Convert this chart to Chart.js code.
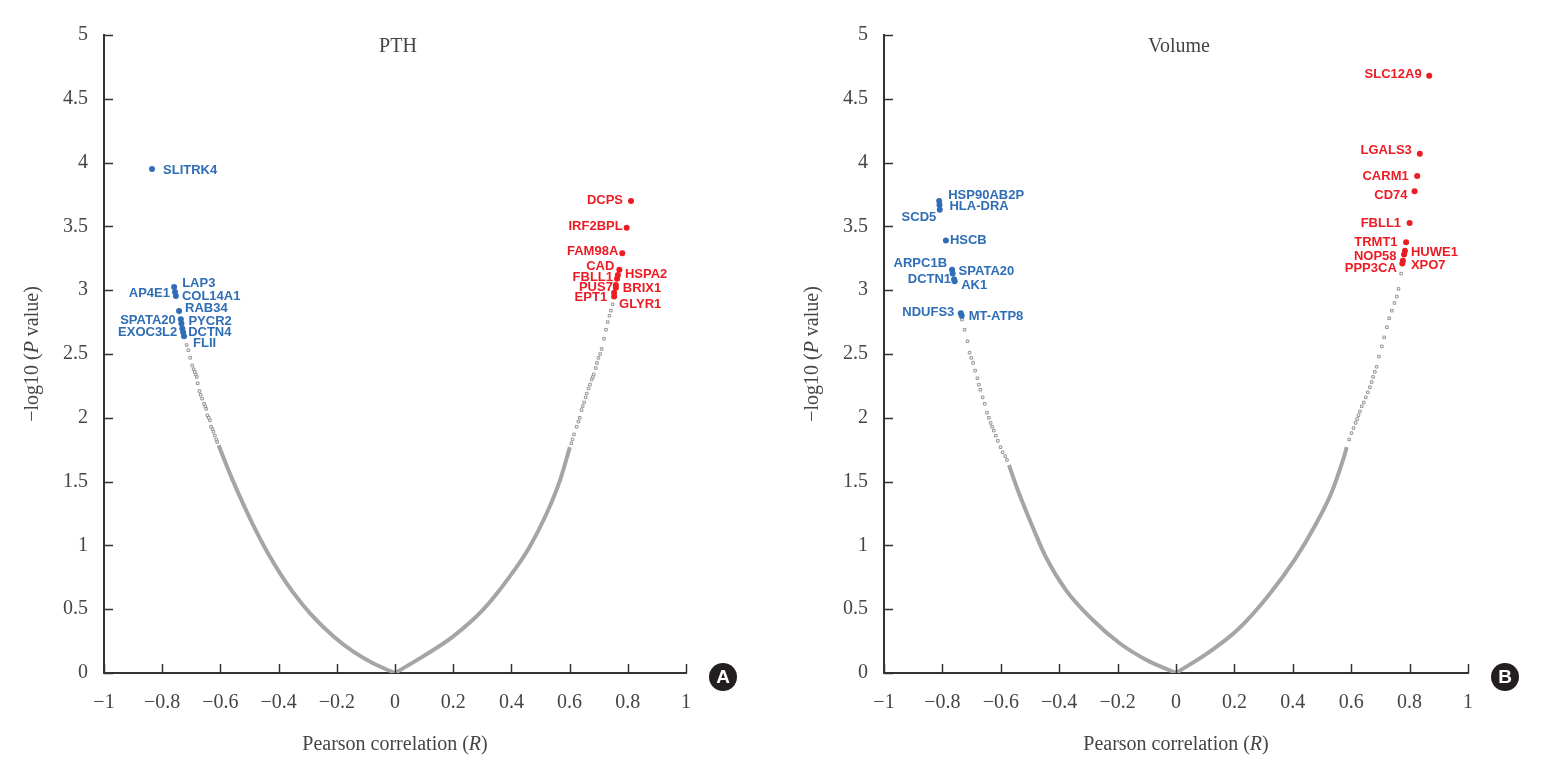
<!DOCTYPE html>
<html>
<head>
<meta charset="utf-8">
<script src="https://cdn.jsdelivr.net/npm/chart.js@4.4.1/dist/chart.umd.min.js"></script>
<style>
body { margin: 0; background: #fff; width: 1545px; height: 774px; overflow: hidden; position: relative; }
.panel { position: absolute; top: 0; height: 774px; }
#boxA { left: 0; width: 772px; }
#boxB { left: 780px; width: 765px; }
</style>
</head>
<body>
<div class="panel" id="boxA"><canvas id="chartA"></canvas></div>
<div class="panel" id="boxB"><canvas id="chartB"></canvas></div>
<script>
// axis ticks (both panels)
const xTickValues = [-1, -0.8, -0.6, -0.4, -0.2, 0, 0.2, 0.4, 0.6, 0.8, 1];
const yTickValues = [0, 0.5, 1, 1.5, 2, 2.5, 3, 3.5, 4, 4.5, 5];

// PTH - grey genes (dense part read as a curve, sparse part as single points)
const pthCurveNegR = [-0.606, -0.577, -0.543, -0.509, -0.474, -0.44, -0.394, -0.349, -0.291, -0.211, -0.143, -0.074, 0];
const pthCurveNegV = [1.785, 1.617, 1.433, 1.263, 1.098, 0.952, 0.777, 0.628, 0.466, 0.286, 0.167, 0.074, 0];
const pthCurvePosR = [0, 0.095, 0.199, 0.302, 0.394, 0.463, 0.521, 0.567, 0.601];
const pthCurvePosV = [0, 0.128, 0.285, 0.494, 0.755, 0.99, 1.25, 1.51, 1.77];
const pthSparseR = [-0.611, -0.614, -0.619, -0.624, -0.627, -0.632, -0.636, -0.640, -0.645, -0.649, -0.652, -0.656,
    -0.663, -0.668, -0.672, -0.678, -0.681, -0.685, -0.688, -0.692, -0.697, -0.704, -0.710, -0.716,
    0.606, 0.61, 0.615, 0.624, 0.63, 0.635, 0.641, 0.645, 0.65, 0.655, 0.659, 0.665, 0.67, 0.676,
    0.68, 0.683, 0.690, 0.694, 0.699, 0.705, 0.710, 0.718, 0.725, 0.731, 0.737, 0.742, 0.748];
const pthSparseV = [1.81, 1.83, 1.86, 1.89, 1.91, 1.93, 1.98, 2.0, 2.02, 2.07, 2.09, 2.11,
    2.15, 2.18, 2.21, 2.27, 2.32, 2.34, 2.36, 2.38, 2.41, 2.47, 2.53, 2.57,
    1.80, 1.83, 1.87, 1.93, 1.97, 2.0, 2.06, 2.09, 2.12, 2.16, 2.19, 2.23, 2.26, 2.30,
    2.32, 2.34, 2.39, 2.43, 2.47, 2.50, 2.54, 2.62, 2.69, 2.75, 2.80, 2.84, 2.89];

// PTH - negatively correlated (blue)
const pthDownGenes = ['SLITRK4', 'LAP3', 'AP4E1', 'COL14A1', 'RAB34', 'SPATA20', 'PYCR2', 'EXOC3L2', 'DCTN4', 'FLII'];
const pthDownR = [-0.835, -0.759, -0.756, -0.753, -0.742, -0.736, -0.734, -0.731, -0.728, -0.725];
const pthDownV = [3.95, 3.025, 2.986, 2.955, 2.837, 2.772, 2.74, 2.70, 2.67, 2.64];

// PTH - positively correlated (red)
const pthUpGenes = ['DCPS', 'IRF2BPL', 'FAM98A', 'CAD', 'HSPA2', 'FBLL1', 'PUS7', 'BRIX1', 'EPT1', 'GLYR1'];
const pthUpR = [0.811, 0.796, 0.781, 0.771, 0.766, 0.763, 0.759, 0.759, 0.753, 0.753];
const pthUpV = [3.70, 3.49, 3.29, 3.16, 3.12, 3.09, 3.04, 3.02, 2.98, 2.95];

// Volume - grey genes
const volCurveNegR = [-0.572, -0.56, -0.538, -0.492, -0.446, -0.377, -0.285, -0.193, -0.101, 0];
const volCurveNegV = [1.63, 1.55, 1.41, 1.15, 0.91, 0.65, 0.415, 0.233, 0.102, 0];
const volCurvePosR = [0, 0.107, 0.210, 0.314, 0.406, 0.475, 0.532, 0.572, 0.585];
const volCurvePosV = [0, 0.154, 0.337, 0.60, 0.886, 1.15, 1.41, 1.67, 1.77];
const volSparseR = [-0.579, -0.585, -0.594, -0.601, -0.61, -0.617, -0.624, -0.630, -0.635, -0.641, -0.647, -0.655,
    -0.662, -0.670, -0.675, -0.680, -0.688, -0.695, -0.701, -0.707, -0.714, -0.724, -0.733,
    0.593, 0.601, 0.608, 0.615, 0.620, 0.625, 0.630, 0.636, 0.643, 0.65, 0.657, 0.664, 0.670,
    0.675, 0.681, 0.687, 0.695, 0.705, 0.713, 0.722, 0.73, 0.739, 0.748, 0.756, 0.762, 0.771];
const volSparseV = [1.67, 1.70, 1.73, 1.77, 1.82, 1.86, 1.90, 1.93, 1.96, 2.0, 2.04, 2.11,
    2.16, 2.22, 2.26, 2.31, 2.37, 2.43, 2.47, 2.51, 2.60, 2.69, 2.77,
    1.83, 1.88, 1.92, 1.96, 1.99, 2.02, 2.05, 2.09, 2.12, 2.16, 2.20, 2.24, 2.28,
    2.32, 2.36, 2.40, 2.48, 2.56, 2.63, 2.71, 2.78, 2.84, 2.90, 2.95, 3.01, 3.13];

// Volume - negatively correlated (blue)
const volDownGenes = ['HSP90AB2P', 'HLA-DRA', 'SCD5', 'HSCB', 'ARPC1B', 'SPATA20', 'DCTN1', 'AK1', 'NDUFS3', 'MT-ATP8'];
const volDownR = [-0.811, -0.810, -0.809, -0.788, -0.767, -0.765, -0.760, -0.758, -0.737, -0.734];
const volDownV = [3.70, 3.667, 3.63, 3.39, 3.16, 3.13, 3.085, 3.07, 2.82, 2.80];

// Volume - positively correlated (red)
const volUpGenes = ['SLC12A9', 'LGALS3', 'CARM1', 'CD74', 'FBLL1', 'TRMT1', 'HUWE1', 'NOP58', 'XPO7', 'PPP3CA'];
const volUpR = [0.867, 0.835, 0.826, 0.817, 0.800, 0.788, 0.784, 0.781, 0.777, 0.775];
const volUpV = [4.68, 4.07, 3.895, 3.775, 3.527, 3.375, 3.31, 3.28, 3.23, 3.21];

// label placement next to each dot: [dx, dy] in px, dx < 0 puts the text on the left
const pthDownLabelPos = [[11, 1], [8, -4], [-5, 1], [6, 0], [6, -3], [-5, 1], [7, -2], [-5, 4], [5, 0], [9, 7]];
const pthUpLabelPos = [[-8, 0], [-4, -1], [-4, -1.5], [-5, -3], [7, 0], [-4, -1], [-3, 2], [7, 1], [-7, 5], [5, 8]];
const volDownLabelPos = [[9, -5.5], [10, 1.7], [-3.5, 8], [4, 0], [-5, -6.5], [6, -2.5], [-3, 0], [6.5, 4.3], [-6.5, -1], [7, 0.7]];
const volUpLabelPos = [[-7.5, -1.5], [-8, -3], [-8.5, 0], [-7, 4.5], [-8.5, 0], [-8.5, 0], [6, 1.7], [-7.5, 1.7], [8, 5], [-5.5, 5.5]];

const RED = '#ec1c24';
const BLUE = '#2f6db6';
const GREY = '#a5a5a5';
const TEXT = '#454545';
const AXIS = '#333333';
const SERIF = '"Liberation Serif", "Times New Roman", serif';
const SANS = '"Liberation Sans", Arial, sans-serif';

function pts(xs, ys) {
    return xs.map((x, i) => ({ x: x, y: ys[i] }));
}

function fmtTick(v) {
    if (v < 0) return '\u2212' + String(Math.abs(v));
    return String(v);
}

function drawRich(ctx, parts, cx, cy, rotate) {
    ctx.save();
    ctx.translate(cx, cy);
    if (rotate) ctx.rotate(-Math.PI / 2);
    let total = 0;
    parts.forEach(p => { ctx.font = p.font; total += ctx.measureText(p.text).width; });
    let x = -total / 2;
    ctx.textBaseline = 'middle';
    ctx.textAlign = 'left';
    ctx.fillStyle = TEXT;
    parts.forEach(p => {
        ctx.font = p.font;
        ctx.fillText(p.text, x, 0);
        x += ctx.measureText(p.text).width;
    });
    ctx.restore();
}

const decorPlugin = {
    id: 'decor',
    afterDraw(chart) {
        const ctx = chart.ctx;
        const area = chart.chartArea;
        const xs = chart.scales.x;
        const ys = chart.scales.y;
        const extra = chart.options.plugins.decor;

        // inward tick marks
        ctx.save();
        ctx.strokeStyle = AXIS;
        ctx.lineWidth = 1.5;
        ctx.beginPath();
        xTickValues.forEach(v => {
            const px = Math.round(xs.getPixelForValue(v)) + 0.5;
            ctx.moveTo(px, area.bottom);
            ctx.lineTo(px, area.bottom - 9);
        });
        yTickValues.forEach(v => {
            const py = Math.round(ys.getPixelForValue(v)) + 0.5;
            ctx.moveTo(area.left, py);
            ctx.lineTo(area.left + 9, py);
        });
        ctx.stroke();
        ctx.restore();

        // gene labels
        ctx.save();
        ctx.font = 'bold 13px ' + SANS;
        ctx.textBaseline = 'middle';
        chart.data.datasets.forEach((ds, di) => {
            if (!ds.genes) return;
            const meta = chart.getDatasetMeta(di);
            ctx.fillStyle = ds.backgroundColor;
            meta.data.forEach((el, i) => {
                const off = ds.labelPos[i];
                ctx.textAlign = off[0] < 0 ? 'right' : 'left';
                ctx.fillText(ds.genes[i], el.x + off[0], el.y + off[1]);
            });
        });
        ctx.restore();

        // panel title
        ctx.save();
        ctx.fillStyle = TEXT;
        ctx.font = '20px ' + SERIF;
        ctx.textAlign = 'center';
        ctx.textBaseline = 'middle';
        ctx.fillText(extra.title, (area.left + area.right) / 2 + 3, area.top + 12);
        ctx.restore();

        // axis titles
        drawRich(ctx, [
            { text: 'Pearson correlation (', font: '20px ' + SERIF },
            { text: 'R', font: 'italic 20px ' + SERIF },
            { text: ')', font: '20px ' + SERIF }
        ], (area.left + area.right) / 2, area.bottom + 72, false);
        drawRich(ctx, [
            { text: '\u2212log10 (', font: '20px ' + SERIF },
            { text: 'P', font: 'italic 20px ' + SERIF },
            { text: ' value)', font: '20px ' + SERIF }
        ], 33, (area.top + area.bottom) / 2, true);

        // panel badge
        ctx.save();
        const bx = area.right + 37, by = area.bottom + 4;
        ctx.fillStyle = '#231f20';
        ctx.beginPath();
        ctx.arc(bx, by, 14, 0, Math.PI * 2);
        ctx.fill();
        ctx.fillStyle = '#fff';
        ctx.font = 'bold 19px ' + SANS;
        ctx.textAlign = 'center';
        ctx.textBaseline = 'middle';
        ctx.fillText(extra.badge, bx, by + 1);
        ctx.restore();
    }
};

function makeChart(canvasId, p) {
    const ctx = document.getElementById(canvasId).getContext('2d');
    const config = {
        type: 'scatter',
        data: {
            datasets: [
                {
                    data: pts(p.downR, p.downV), genes: p.downGenes, labelPos: p.downPos,
                    backgroundColor: BLUE, borderColor: BLUE, pointRadius: 3, borderWidth: 0, order: 1
                },
                {
                    data: pts(p.upR, p.upV), genes: p.upGenes, labelPos: p.upPos,
                    backgroundColor: RED, borderColor: RED, pointRadius: 3, borderWidth: 0, order: 1
                },
                {
                    data: pts(p.sparseR, p.sparseV), pointStyle: 'rect', pointRadius: 1.8,
                    backgroundColor: '#ffffff', borderColor: '#959595', borderWidth: 1, order: 2
                },
                {
                    data: pts(p.negR, p.negV), showLine: true, cubicInterpolationMode: 'monotone', pointRadius: 0,
                    borderColor: GREY, borderWidth: 4, order: 3
                },
                {
                    data: pts(p.posR, p.posV), showLine: true, cubicInterpolationMode: 'monotone', pointRadius: 0,
                    borderColor: GREY, borderWidth: 4, order: 3
                }
            ]
        },
        options: {
            responsive: true,
            maintainAspectRatio: false,
            animation: false,
            events: [],
            layout: { padding: { top: 35, right: p.rightPad, left: 0, bottom: 0 } },
            plugins: {
                legend: { display: false },
                tooltip: { enabled: false },
                decor: { title: p.title, badge: p.badge }
            },
            scales: {
                x: {
                    type: 'linear', min: -1, max: 1,
                    afterBuildTicks: s => { s.ticks = xTickValues.map(v => ({ value: v })); },
                    afterFit: s => { s.height = 101; },
                    grid: { display: false, drawTicks: false },
                    border: { display: true, color: AXIS, width: 2 },
                    ticks: {
                        color: TEXT, padding: 18, maxRotation: 0, autoSkip: false,
                        font: { family: SERIF, size: 20 },
                        callback: v => fmtTick(v)
                    }
                },
                y: {
                    type: 'linear', min: 0, max: 5,
                    afterBuildTicks: s => { s.ticks = yTickValues.map(v => ({ value: v })); },
                    afterFit: s => { s.width = 104; },
                    grid: { display: false, drawTicks: false },
                    border: { display: true, color: AXIS, width: 2 },
                    ticks: {
                        color: TEXT, padding: 16, autoSkip: false,
                        font: { family: SERIF, size: 20 },
                        callback: v => fmtTick(v)
                    }
                }
            }
        },
        plugins: [decorPlugin]
    };
    return new Chart(ctx, config);
}

window.chartA = makeChart('chartA', {
    title: 'PTH', badge: 'A', rightPad: 86,
    negR: pthCurveNegR, negV: pthCurveNegV, posR: pthCurvePosR, posV: pthCurvePosV,
    sparseR: pthSparseR, sparseV: pthSparseV,
    downGenes: pthDownGenes, downR: pthDownR, downV: pthDownV, downPos: pthDownLabelPos,
    upGenes: pthUpGenes, upR: pthUpR, upV: pthUpV, upPos: pthUpLabelPos
});

window.chartB = makeChart('chartB', {
    title: 'Volume', badge: 'B', rightPad: 77,
    negR: volCurveNegR, negV: volCurveNegV, posR: volCurvePosR, posV: volCurvePosV,
    sparseR: volSparseR, sparseV: volSparseV,
    downGenes: volDownGenes, downR: volDownR, downV: volDownV, downPos: volDownLabelPos,
    upGenes: volUpGenes, upR: volUpR, upV: volUpV, upPos: volUpLabelPos
});
</script>
</body>
</html>
